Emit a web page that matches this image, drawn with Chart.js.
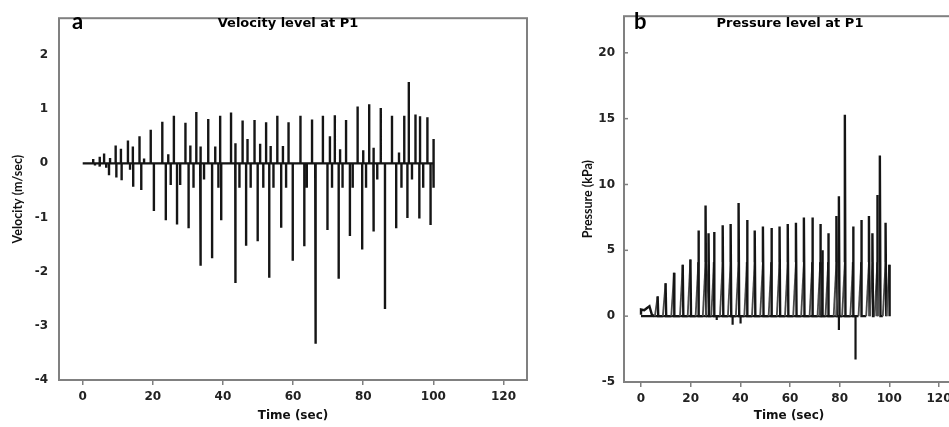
<!DOCTYPE html>
<html>
<head>
<meta charset="utf-8">
<script src="https://cdn.jsdelivr.net/npm/chart.js@4.4.1/dist/chart.umd.min.js"></script>
<style>
  html, body { margin: 0; padding: 0; background: #fff; overflow: hidden; }
  body { width: 949px; height: 427px; position: relative; }
  #velWrap { position: absolute; left: 0; top: 0; width: 540px; height: 427px; }
  #presWrap { position: absolute; left: 540px; top: 0; width: 420px; height: 427px; }
</style>
</head>
<body>
<div id="velWrap"><canvas id="velocityChart" width="540" height="427"></canvas></div>
<div id="presWrap"><canvas id="pressureChart" width="420" height="427"></canvas></div>
<script>
// tick labels
const timeTicks = [0, 20, 40, 60, 80, 100, 120];
const velocityTicks = [-4, -3, -2, -1, 0, 1, 2];
const pressureTicks = [-5, 0, 5, 10, 15, 20];

// velocity at P1: spike times (sec) and spike values (m/sec)
const velTime = [
    3.0, 3.5, 4.8, 4.9, 6.1, 6.7, 7.5, 7.8, 9.4, 9.6,
    10.9, 11.1, 12.9, 13.5, 14.3, 14.4, 16.2, 16.7, 17.5, 19.4,
    20.3, 22.7, 23.7, 24.4, 25.1, 26.0, 26.9, 27.8, 29.3, 30.2,
    30.7, 31.6, 32.4, 33.5, 33.7, 34.6, 35.8, 36.9, 37.8, 38.7,
    39.2, 39.5, 42.3, 43.5, 43.6, 44.7, 45.6, 46.6, 47.0, 47.9,
    49.0, 49.9, 50.6, 51.5, 52.3, 53.2, 53.6, 54.4, 55.5, 56.6,
    57.1, 58.0, 58.7, 59.9, 62.1, 63.2, 63.9, 65.4, 66.3, 66.5,
    68.5, 69.8, 70.5, 71.1, 71.9, 73.0, 73.4, 74.1, 75.1, 76.2,
    77.0, 78.4, 79.7, 80.0, 80.8, 81.7, 82.9, 83.0, 84.0, 85.0,
    86.2, 88.2, 89.4, 90.2, 90.9, 91.7, 92.6, 93.0, 93.9, 94.9,
    96.0, 96.2, 97.1, 98.3, 99.2, 100.0, 100.1
];
const velValue = [
    0.08, -0.04, 0.12, -0.06, 0.18, -0.08, -0.22, 0.1, 0.33, -0.26,
    0.27, -0.31, 0.42, -0.12, 0.31, -0.43, 0.5, -0.49, 0.09, 0.62,
    -0.88, 0.77, -1.05, 0.17, -0.4, 0.88, -1.13, -0.4, 0.75, -1.2,
    0.33, -0.45, 0.95, -1.89, 0.31, -0.3, 0.82, -1.75, 0.31, -0.45,
    0.88, -1.05, 0.94, -2.21, 0.37, -0.45, 0.79, -1.52, 0.45, -0.45,
    0.8, -1.44, 0.36, -0.45, 0.76, -2.11, 0.32, -0.45, 0.88, -1.19,
    0.32, -0.45, 0.76, -1.8, 0.88, -1.53, -0.45, 0.81, -3.33, -0.55,
    0.88, -1.23, 0.5, -0.45, 0.89, -2.13, 0.26, -0.45, 0.8, -1.34,
    -0.45, 1.05, -1.59, 0.24, -0.45, 1.09, 0.29, -1.26, -0.3, 1.02,
    -2.69, 0.88, -1.2, 0.2, -0.45, 0.88, -1.01, 1.5, -0.3, 0.9,
    -1.02, 0.87, -0.45, 0.85, -1.14, 0.45, -0.45
];

// pressure at P1 (kPa)
const presLeadTime = [0, 0, 1.3, 2.3, 3.4, 4.4, 5.4];
const presLeadValue = [0.1, 0.5, 0.45, 0.6, 0.75, 0.1, 0];
const presTime = [
    6.7, 9.9, 13.3, 16.8, 19.9, 23.1, 26.0, 27.2, 29.4, 32.9,
    36.1, 39.3, 42.7, 45.8, 49.1, 52.5, 55.8, 59.1, 62.4, 65.6,
    69.0, 72.2, 73.0, 75.4, 78.7, 79.7, 82.1, 85.4, 88.7, 91.8,
    93.2, 95.2, 96.2, 98.5, 100.0
];
const presPeak = [
    1.5, 2.5, 3.3, 3.9, 4.3, 6.5, 8.4, 6.3, 6.4, 6.9,
    7.0, 8.6, 7.3, 6.5, 6.8, 6.7, 6.8, 7.0, 7.1, 7.5,
    7.5, 7.0, 5.0, 6.3, 7.6, 9.1, 15.3, 6.8, 7.3, 7.6,
    6.3, 9.2, 12.2, 7.1, 3.9
];
const presShoulder = [
    1.5, 2.5, 3.3, 3.9, 4.3, 4.1, 4.1, 4.1, 4.1, 4.1,
    4.1, 4.1, 4.1, 4.1, 4.1, 4.1, 4.1, 4.1, 4.1, 4.1,
    4.1, 4.1, 4.1, 4.1, 4.1, 4.1, 4.1, 4.1, 4.1, 4.1,
    4.1, 4.1, 4.1, 4.1, 3.9
];
const presDipTime = [30.5, 36.9, 40.1, 79.7, 86.4];
const presDipValue = [-0.3, -0.65, -0.55, -1.05, -3.3];

const RAMP = 1.1;   // width of the rising ramp before each pressure pulse
const DROP = 0.25;  // width of the fall after each pressure pulse

// each spike leaves the zero line and comes straight back to it
function spikeTrace(times, values) {
    const pts = [{x: 0, y: 0}];
    times.forEach((t, i) => {
        pts.push({x: t, y: 0}, {x: t, y: values[i]}, {x: t, y: 0});
    });
    return pts;
}

function pressureTrace() {
    const pts = presLeadTime.map((t, i) => ({x: t, y: presLeadValue[i]}));
    presTime.forEach((t, i) => {
        pts.push({x: t - RAMP, y: 0});
        pts.push({x: t, y: presShoulder[i]});
        pts.push({x: t, y: presPeak[i]});
        pts.push({x: t + DROP, y: 0});
    });
    return pts;
}

// the slow rising ramps print lighter than the sharp vertical strokes
const isRamp = (ctx) => Math.abs(ctx.p1.x - ctx.p0.x) > 2 && (ctx.p0.y - ctx.p1.y) > 8;
const rampGray = (ctx) => isRamp(ctx) ? '#4a4a4a' : undefined;
const rampWidth = (ctx) => isRamp(ctx) ? 1.8 : undefined;

// frame, panel letter, panel title
const panelDecor = {
    id: 'panelDecor',
    afterDraw(chart, args, opts) {
        const {ctx, chartArea: a} = chart;
        ctx.save();
        ctx.strokeStyle = '#808080';
        ctx.lineWidth = 2;
        ctx.strokeRect(a.left, a.top, a.right - a.left, a.bottom - a.top);
        if (opts.innerTicks) {
            ctx.lineWidth = 1.5;
            opts.innerTicks.forEach(v => {
                const y = chart.scales.y.getPixelForValue(v);
                ctx.beginPath();
                ctx.moveTo(a.left, y);
                ctx.lineTo(a.left + 4, y);
                ctx.stroke();
            });
        }
        ctx.fillStyle = '#000';
        ctx.textBaseline = 'alphabetic';
        ctx.textAlign = 'left';
        ctx.font = 'bold 22px Lato';
        ctx.fillText(opts.letter, opts.letterX, 29);
        ctx.textAlign = 'center';
        ctx.font = 'bold 13px "DejaVu Sans"';
        ctx.fillText(opts.title, opts.titleX, 27);
        ctx.restore();
    }
};

const tickFont = {family: 'DejaVu Sans', size: 12, weight: 'bold'};

function makeChart(id, cfg) {
    return new Chart(document.getElementById(id).getContext('2d'), {
        type: 'line',
        data: {datasets: cfg.datasets},
        options: {
            responsive: false,
            animation: false,
            events: [],
            layout: {padding: cfg.padding},
            plugins: {
                legend: {display: false},
                tooltip: {enabled: false},
                panelDecor: cfg.decor
            },
            scales: {
                x: {
                    type: 'linear',
                    min: cfg.xMin,
                    max: cfg.xMax,
                    afterBuildTicks: (scale) => { scale.ticks = timeTicks.map(v => ({value: v})); },
                    afterFit: (scale) => { scale.height = cfg.xHeight; },
                    grid: {drawOnChartArea: false, drawTicks: true, tickLength: 5, color: '#808080', lineWidth: 1.5},
                    border: {display: false},
                    ticks: {color: '#222', font: tickFont, padding: 5, maxRotation: 0},
                    title: {display: true, text: 'Time (sec)', color: '#111',
                            font: {family: 'DejaVu Sans', size: 12, weight: 'bold'},
                            padding: {top: 0, bottom: 4}}
                },
                y: {
                    type: 'linear',
                    min: cfg.yMin,
                    max: cfg.yMax,
                    afterBuildTicks: (scale) => { scale.ticks = cfg.yTicks.map(v => ({value: v})); },
                    afterFit: (scale) => { scale.width = cfg.yWidth; },
                    grid: {display: false, drawTicks: false},
                    border: {display: false},
                    ticks: {color: '#222', font: tickFont, padding: cfg.yPad},
                    title: {display: true, text: cfg.yTitle, color: '#111',
                            font: {family: 'Lato', size: 12.5, weight: 'bold'},
                            padding: {top: cfg.yTitlePad, bottom: 0}}
                }
            }
        },
        plugins: [panelDecor]
    });
}

const velocityChart = makeChart('velocityChart', {
    datasets: [{
        data: spikeTrace(velTime, velValue),
        borderColor: '#151515',
        borderWidth: 2.4,
        pointRadius: 0,
        tension: 0
    }],
    padding: {top: 6, right: 13, left: 0, bottom: 0},
    xMin: -6.76, xMax: 126.7, xHeight: 47,
    yMin: -4, yMax: 2.68, yTicks: velocityTicks, yWidth: 59, yPad: 11,
    yTitle: 'Velocity (m/sec)', yTitlePad: 10,
    decor: {letter: 'a', letterX: 72, title: 'Velocity level at P1', titleX: 288}
});

const pressureChart = makeChart('pressureChart', {
    datasets: [{
        data: pressureTrace(),
        borderColor: '#151515',
        borderWidth: 2.4,
        pointRadius: 0,
        tension: 0,
        segment: {borderColor: rampGray, borderWidth: rampWidth}
    }, {
        data: spikeTrace(presDipTime, presDipValue),
        borderColor: '#151515',
        borderWidth: 2.2,
        pointRadius: 0,
        tension: 0
    }],
    padding: {top: 5, right: 6, left: 0, bottom: 0},
    xMin: -6.85, xMax: 126.06, xHeight: 45,
    yMin: -5, yMax: 22.78, yTicks: pressureTicks, yWidth: 84, yPad: 9,
    yTitle: 'Pressure (kPa)', yTitlePad: 40,
    decor: {letter: 'b', letterX: 94, title: 'Pressure level at P1', titleX: 250, innerTicks: pressureTicks}
});
</script>
</body>
</html>
